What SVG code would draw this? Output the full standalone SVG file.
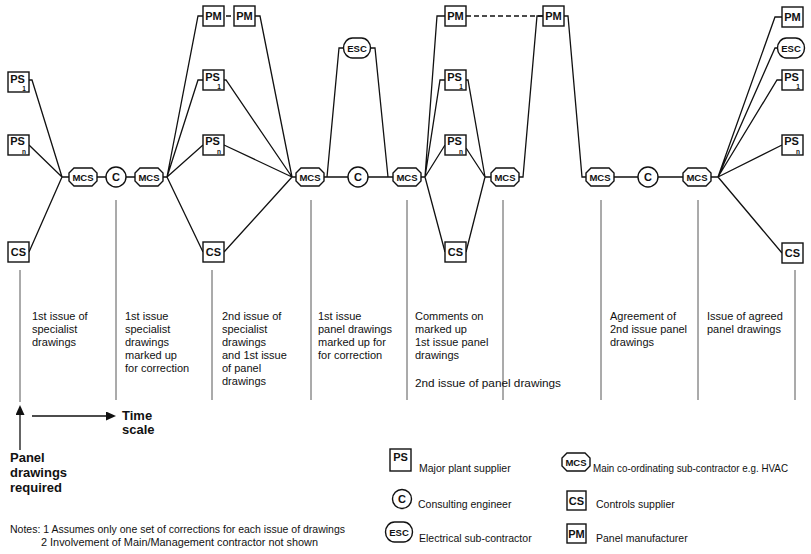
<svg xmlns="http://www.w3.org/2000/svg" xmlns:xlink="http://www.w3.org/1999/xlink" width="811" height="554" viewBox="0 0 811 554">
<style>
.n{fill:#fff;stroke:#111;stroke-width:1.4}
.c{fill:none;stroke:#111;stroke-width:1.3}
.d{fill:none;stroke:#111;stroke-width:1.3;stroke-dasharray:5 3}
.v{fill:none;stroke:#444;stroke-width:0.9}
.lb{font-family:"Liberation Sans",Arial,sans-serif;font-weight:bold;fill:#111;text-anchor:middle}
.f10{font-size:11px}
.f9{font-size:9.5px}
.sub{font-family:"Liberation Sans",Arial,sans-serif;font-weight:bold;fill:#111;font-size:6.5px;text-anchor:middle}
.t{font-family:"Liberation Sans",Arial,sans-serif;font-size:11px;fill:#111}
.lg{font-family:"Liberation Sans",Arial,sans-serif;font-size:10.5px;fill:#111}
.b{font-family:"Liberation Sans",Arial,sans-serif;font-size:13px;font-weight:bold;fill:#111}
.nt{font-family:"Liberation Sans",Arial,sans-serif;font-size:10.5px;fill:#111}
</style>
<defs>
<path id="oct" d="M-9,-9 H9 L14,-4 V4 L9,9 H-9 L-14,4 V-4 Z"/>
<rect id="box" x="0" y="0" width="21" height="20"/>
<rect id="esc" x="-13.5" y="-10" width="27" height="20" rx="9" ry="10"/>
<marker id="ah" markerUnits="userSpaceOnUse" markerWidth="10" markerHeight="9" refX="0" refY="4.5" orient="auto" viewBox="0 0 10 9">
<path d="M0,0 L10,4.5 L0,9 Z" fill="#111"/>
</marker>
</defs>

<g id="connectors">
<path class="c" d="M29,80 H32 L62,177 M29,145 L62,177 M29,252 L62,177 M62,177 H69 M97,177 H106 M126,177 H135 M163,177 H167"/>
<path class="c" d="M167,177 L198,16 H203 M226,16 H231 M255,16 H260 L292,177 M167,177 L198,80 H203 M224,80 H226 L292,177 M167,177 L203,145 M224,145 L292,177 M167,177 L203,252 M224,252 L292,177 M292,177 H296"/>
<path class="c" d="M324,177 H348 M327,177 L339,48 H343.5 M370.5,48 H375 L388,177 M368,177 H393 M421,177 H425"/>
<path class="c" d="M425,177 L437,16 H445 M425,177 L440,80 H445 M425,177 L445,145 M425,177 L445,252 M466,80 H468 L485,177 M466,148 L485,177 M466,252 L485,177 M485,177 H491"/>
<path class="d" d="M466,16 H543"/>
<path class="c" d="M519,177 H523 L537,16 H543 M564,16 H568 L582,177 H586 M614,177 H638 M658,177 H683 M711,177 H718"/>
<path class="c" d="M718,177 L775,17 H782 M718,177 L775,48 H778 M718,177 L777,80 H782 M718,177 L782,145 M718,177 L782,253"/>
</g>

<g id="timelines">
<path class="v" d="M20,270 V402 M116,200 V400 M212,270 V400 M311,200 V400 M407,200 V400 M503,200 V400 M601,200 V400 M698,200 V400 M795,270 V400"/>
<path class="c" d="M20,450 V415" marker-end="url(#ah)" stroke-width="2"/>
<path class="c" d="M32,416 H106" marker-end="url(#ah)" stroke-width="1.6"/>
</g>

<g id="ps1-a"><use xlink:href="#box" class="n" x="8" y="72"/><text class="lb f10" x="17.5" y="82.5">PS</text><text class="sub" x="24" y="91">1</text></g>
<g id="psn-a"><use xlink:href="#box" class="n" x="8" y="135"/><text class="lb f10" x="17.5" y="145">PS</text><text class="sub" x="24" y="154">n</text></g>
<g id="cs-a"><use xlink:href="#box" class="n" x="8" y="242"/><text class="lb f10" x="18.5" y="256">CS</text></g>
<g id="mcs-1"><use xlink:href="#oct" class="n" x="83" y="177"/><text class="lb f9" x="83" y="180.5">MCS</text></g>
<g id="c-1"><circle class="n" cx="116" cy="177" r="10"/><text class="lb f10" x="116" y="181">C</text></g>
<g id="mcs-2"><use xlink:href="#oct" class="n" x="149" y="177"/><text class="lb f9" x="149" y="180.5">MCS</text></g>

<g id="pm-1"><use xlink:href="#box" class="n" x="203" y="6"/><text class="lb f10" x="213.5" y="20">PM</text></g>
<g id="pm-2"><use xlink:href="#box" class="n" x="234" y="6"/><text class="lb f10" x="244.5" y="20">PM</text></g>
<g id="ps1-b"><use xlink:href="#box" class="n" x="203" y="70"/><text class="lb f10" x="212.5" y="80.5">PS</text><text class="sub" x="219" y="89">1</text></g>
<g id="psn-b"><use xlink:href="#box" class="n" x="203" y="135"/><text class="lb f10" x="212.5" y="145">PS</text><text class="sub" x="219" y="154">n</text></g>
<g id="cs-b"><use xlink:href="#box" class="n" x="203" y="242"/><text class="lb f10" x="213.5" y="256">CS</text></g>

<g id="mcs-3"><use xlink:href="#oct" class="n" x="310" y="177"/><text class="lb f9" x="310" y="180.5">MCS</text></g>
<g id="esc-1"><use xlink:href="#esc" class="n" x="357" y="48"/><text class="lb f9" x="357" y="51.5">ESC</text></g>
<g id="c-2"><circle class="n" cx="358" cy="177" r="10"/><text class="lb f10" x="358" y="181">C</text></g>
<g id="mcs-4"><use xlink:href="#oct" class="n" x="407" y="177"/><text class="lb f9" x="407" y="180.5">MCS</text></g>

<g id="pm-3"><use xlink:href="#box" class="n" x="445" y="6"/><text class="lb f10" x="455.5" y="20">PM</text></g>
<g id="ps1-c"><use xlink:href="#box" class="n" x="445" y="70"/><text class="lb f10" x="454.5" y="80.5">PS</text><text class="sub" x="461" y="89">1</text></g>
<g id="psn-c"><use xlink:href="#box" class="n" x="445" y="135"/><text class="lb f10" x="454.5" y="145">PS</text><text class="sub" x="461" y="154">n</text></g>
<g id="cs-c"><use xlink:href="#box" class="n" x="445" y="242"/><text class="lb f10" x="455.5" y="256">CS</text></g>

<g id="mcs-5"><use xlink:href="#oct" class="n" x="505" y="177"/><text class="lb f9" x="505" y="180.5">MCS</text></g>
<g id="pm-4"><use xlink:href="#box" class="n" x="543" y="6"/><text class="lb f10" x="553.5" y="20">PM</text></g>
<g id="mcs-6"><use xlink:href="#oct" class="n" x="600" y="177"/><text class="lb f9" x="600" y="180.5">MCS</text></g>
<g id="c-3"><circle class="n" cx="648" cy="177" r="10"/><text class="lb f10" x="648" y="181">C</text></g>
<g id="mcs-7"><use xlink:href="#oct" class="n" x="697" y="177"/><text class="lb f9" x="697" y="180.5">MCS</text></g>

<g id="pm-5"><use xlink:href="#box" class="n" x="782" y="7"/><text class="lb f10" x="792.5" y="21">PM</text></g>
<g id="esc-2"><use xlink:href="#esc" class="n" x="791" y="48"/><text class="lb f9" x="791" y="51.5">ESC</text></g>
<g id="ps1-d"><use xlink:href="#box" class="n" x="782" y="70"/><text class="lb f10" x="791.5" y="80.5">PS</text><text class="sub" x="798" y="89">1</text></g>
<g id="psn-d"><use xlink:href="#box" class="n" x="782" y="135"/><text class="lb f10" x="791.5" y="145">PS</text><text class="sub" x="798" y="154">n</text></g>
<g id="cs-d"><use xlink:href="#box" class="n" x="782" y="243"/><text class="lb f10" x="792.5" y="257">CS</text></g>

<g id="stage-texts">
<text class="t" x="32" y="320"><tspan x="32">1st issue of</tspan><tspan x="32" dy="13">specialist</tspan><tspan x="32" dy="13">drawings</tspan></text>
<text class="t" x="125" y="320"><tspan x="125">1st issue</tspan><tspan x="125" dy="13">specialist</tspan><tspan x="125" dy="13">drawings</tspan><tspan x="125" dy="13">marked up</tspan><tspan x="125" dy="13">for correction</tspan></text>
<text class="t" x="222" y="320"><tspan x="222">2nd issue of</tspan><tspan x="222" dy="13">specialist</tspan><tspan x="222" dy="13">drawings</tspan><tspan x="222" dy="13">and 1st issue</tspan><tspan x="222" dy="13">of panel</tspan><tspan x="222" dy="13">drawings</tspan></text>
<text class="t" x="318" y="320"><tspan x="318">1st issue</tspan><tspan x="318" dy="13">panel drawings</tspan><tspan x="318" dy="13">marked up for</tspan><tspan x="318" dy="13">for correction</tspan></text>
<text class="t" x="415" y="320"><tspan x="415">Comments on</tspan><tspan x="415" dy="13">marked up</tspan><tspan x="415" dy="13">1st issue panel</tspan><tspan x="415" dy="13">drawings</tspan></text>
<text class="t" x="415" y="387" textLength="146" lengthAdjust="spacingAndGlyphs">2nd issue of panel drawings</text>
<text class="t" x="610" y="320"><tspan x="610">Agreement of</tspan><tspan x="610" dy="13">2nd issue panel</tspan><tspan x="610" dy="13">drawings</tspan></text>
<text class="t" x="707" y="320"><tspan x="707">Issue of agreed</tspan><tspan x="707" dy="13">panel drawings</tspan></text>
</g>

<g id="time-labels">
<text class="b" x="122" y="420">Time</text>
<text class="b" x="122" y="434">scale</text>
<text class="b" x="10" y="462">Panel</text>
<text class="b" x="10" y="477">drawings</text>
<text class="b" x="10" y="492">required</text>
</g>

<g id="legend">
<g id="lg-ps"><rect class="n" x="390" y="449" width="21" height="22"/><text class="lb f10" x="400.5" y="460.5">PS</text><text class="lg" x="419" y="472">Major plant supplier</text></g>
<g id="lg-c"><circle class="n" cx="402" cy="499" r="9.5"/><text class="lb f10" x="402" y="503">C</text><text class="lg" x="418" y="508">Consulting engineer</text></g>
<g id="lg-esc"><use xlink:href="#esc" class="n" x="399" y="532"/><text class="lb f9" x="399" y="535.5">ESC</text><text class="lg" x="419" y="542">Electrical sub-contractor</text></g>
<g id="lg-mcs"><use xlink:href="#oct" class="n" x="576" y="462"/><text class="lb f9" x="576" y="465.5">MCS</text><text class="lg" x="593" y="472" textLength="195" lengthAdjust="spacingAndGlyphs">Main co-ordinating sub-contractor e.g. HVAC</text></g>
<g id="lg-cs"><rect class="n" x="567" y="491" width="19" height="19"/><text class="lb f10" x="576.5" y="504.5">CS</text><text class="lg" x="596" y="508">Controls supplier</text></g>
<g id="lg-pm"><rect class="n" x="567" y="524" width="19" height="19"/><text class="lb f10" x="576.5" y="537.5">PM</text><text class="lg" x="596" y="542">Panel manufacturer</text></g>
</g>

<g id="notes">
<text class="nt" x="10" y="533" textLength="335" lengthAdjust="spacingAndGlyphs">Notes: 1 Assumes only one set of corrections for each issue of drawings</text>
<text class="nt" x="41" y="546" textLength="277" lengthAdjust="spacingAndGlyphs">2 Involvement of Main/Management contractor not shown</text>
</g>
</svg>
